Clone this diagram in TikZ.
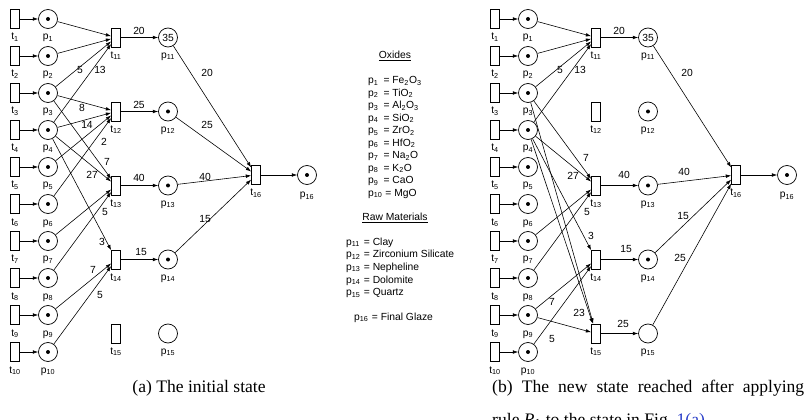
\documentclass[tikz,border=0pt]{standalone}
\usepackage{fontspec}
\setmainfont{Liberation Serif}
\newfontfamily\netfont{Liberation Sans}
\usetikzlibrary{arrows.meta}
\definecolor{linkblue}{RGB}{40,60,200}
\begin{document}
\begin{tikzpicture}[x=0.3mm,y=-0.3mm,
  every node/.style={font=\netfont\fontsize{8.8}{10}\selectfont},
  place/.style={circle,draw,line width=0.6pt,minimum size=5.7mm,inner sep=0pt},
  trans/.style={rectangle,draw,line width=0.6pt,minimum width=2.7mm,minimum height=5.7mm,inner sep=0pt},
  lbl/.style={anchor=base,inner sep=0pt},
  wt/.style={inner sep=0pt},
  legend/.style={anchor=base west,inner sep=0pt},
  arc/.style={line width=0.5pt,-{Latex[length=1.6mm,width=1.1mm]}},
  captext/.style={font=\rmfamily\fontsize{15}{18}\selectfont,inner sep=0pt},
]
\useasboundingbox (0,0) rectangle (804,420);
% common parts of both nets
\foreach \d/\o in {a/0,b/480}{
  \foreach \i in {1,...,10}{
    \pgfmathsetmacro\yy{19+37*(\i-1)}
    \node[trans] (\d-t\i) at ({\o+15},\yy) {};
    \node[place] (\d-p\i) at ({\o+48},\yy) {};
    \fill (\d-p\i) circle[radius=0.6mm];
    \node[lbl] (\d-lt\i) at ({\o+15},{\yy+21}) {t\textsubscript{\i}};
    \node[lbl] (\d-lp\i) at ({\o+48},{\yy+21}) {p\textsubscript{\i}};
    \draw[arc] (\d-t\i) -- (\d-p\i);
  }
  \foreach \k in {11,...,15}{
    \pgfmathsetmacro\yy{37.5+74*(\k-11)}
    \node[trans] (\d-t\k) at ({\o+116},\yy) {};
    \node[lbl] (\d-lt\k) at ({\o+116},{\yy+21}) {t\textsubscript{\k}};
    \node[lbl] (\d-lp\k) at ({\o+168},{\yy+21}) {p\textsubscript{\k}};
  }
  \node[place] (\d-p11) at ({\o+168},37.5) {35};
  \node[place] (\d-p12) at ({\o+168},111.5) {};
  \node[place] (\d-p13) at ({\o+168},185.5) {};
  \node[place] (\d-p14) at ({\o+168},259.5) {};
  \node[place] (\d-p15) at ({\o+168},333.5) {};
  \fill (\d-p12) circle[radius=0.6mm];
  \fill (\d-p13) circle[radius=0.6mm];
  \fill (\d-p14) circle[radius=0.6mm];
  \node[trans] (\d-t16) at ({\o+256},175) {};
  \node[place] (\d-p16) at ({\o+307},175) {};
  \fill (\d-p16) circle[radius=0.6mm];
  \node[lbl] (\d-lt16) at ({\o+256},196) {t\textsubscript{16}};
  \node[lbl] (\d-lp16) at ({\o+307},198) {p\textsubscript{16}};
  \draw[arc] (\d-t16) -- (\d-p16);
  % t11 (clay)
  \draw[arc] (\d-p1) -- (\d-t11);
  \draw[arc] (\d-p2) -- (\d-t11);
  \draw[arc] (\d-p3) -- (\d-t11);
  \draw[arc] (\d-p4) -- (\d-t11);
  \node[wt] (\d-w3-11) at ({\o+80},70) {5};
  \node[wt] (\d-w4-11) at ({\o+100},70) {13};
  \draw[arc] (\d-t11) -- (\d-p11);
  \node[wt] (\d-w11o) at ({\o+139},31) {20};
  \draw[arc] (\d-p11) -- (\d-t16);
  \node[wt] (\d-w11i) at ({\o+207},73) {20};
  % t13 (nepheline)
  \draw[arc] (\d-p3) -- (\d-t13);
  \draw[arc] (\d-p4) -- (\d-t13);
  \draw[arc] (\d-p7) -- (\d-t13);
  \draw[arc] (\d-p8) -- (\d-t13);
  \draw[arc] (\d-t13) -- (\d-p13);
  \draw[arc] (\d-p13) -- (\d-t16);
  % t14 (dolomite)
  \draw[arc] (\d-p4) -- (\d-t14);
  \draw[arc] (\d-p9) -- (\d-t14);
  \draw[arc] (\d-p10) -- (\d-t14);
  \draw[arc] (\d-t14) -- (\d-p14);
  \draw[arc] (\d-p14) -- (\d-t16);
}
% ---- net (a) specific
\draw[arc] (a-p3) -- (a-t12);
\draw[arc] (a-p4) -- (a-t12);
\draw[arc] (a-p5) -- (a-t12);
\draw[arc] (a-p6) -- (a-t12);
\draw[arc] (a-t12) -- (a-p12);
\draw[arc] (a-p12) -- (a-t16);
\node[wt] (a-w4-12) at (82,108) {8};
\node[wt] (a-w5-12) at (87,125) {14};
\node[wt] (a-w6-12) at (104,142) {2};
\node[wt] (a-w3-13) at (107,162) {7};
\node[wt] (a-w4-13) at (92,175) {27};
\node[wt] (a-w8-13) at (105,212) {5};
\node[wt] (a-w4-14) at (102,242) {3};
\node[wt] (a-w9-14) at (93,270) {7};
\node[wt] (a-w10-14) at (100,295) {5};
\node[wt] (a-w12o) at (139,105) {25};
\node[wt] (a-w13o) at (139,178) {40};
\node[wt] (a-w14o) at (141,252) {15};
\node[wt] (a-w12i) at (207,125) {25};
\node[wt] (a-w13i) at (205,177) {40};
\node[wt] (a-w14i) at (205,219) {15};
% ---- net (b) specific
\draw[arc] (b-p4) -- (b-t15);
\draw[arc] (b-p3) -- (b-t15);
\draw[arc] (b-p9) -- (b-t15);
\draw[arc] (b-t15) -- (b-p15);
\draw[arc] (b-p15) -- (b-t16);
\node[wt] (b-w3-13) at (586,158) {7};
\node[wt] (b-w4-13) at (573,176) {27};
\node[wt] (b-w8-13) at (587,212) {5};
\node[wt] (b-w4-14) at (591,236) {3};
\node[wt] (b-w9-14) at (552,302) {7};
\node[wt] (b-w10-14) at (552,339) {5};
\node[wt] (b-w4-15) at (579,313) {23};
\node[wt] (b-w13o) at (624,175) {40};
\node[wt] (b-w14o) at (626,249) {15};
\node[wt] (b-w15o) at (623,324) {25};
\node[wt] (b-w13i) at (684,172) {40};
\node[wt] (b-w14i) at (683,216) {15};
\node[wt] (b-w15i) at (680,258) {25};
% ---- legend
\node[inner sep=0pt] (oxh) at (395,56) {\underline{Oxides}};
\foreach \i/\f [count=\n] in {1/Fe\textsubscript{2}O\textsubscript{3},2/TiO\textsubscript{2},3/Al\textsubscript{2}O\textsubscript{3},4/SiO\textsubscript{2},5/ZrO\textsubscript{2},6/HfO\textsubscript{2},7/Na\textsubscript{2}O,8/K\textsubscript{2}O,9/CaO}{
  \node[legend] (ox\i) at (368,{84+12.45*(\n-1)}) {\makebox[4.6mm][l]{p\textsubscript{\i}}= \f};
}
\node[legend] (ox10) at (368,{84+12.45*9}) {p\textsubscript{10} = MgO};
\node[inner sep=0pt] (rmh) at (395,218) {\underline{Raw Materials}};
\foreach \i/\f [count=\n] in {11/Clay,12/Zirconium Silicate,13/Nepheline,14/Dolomite,15/Quartz}{
  \node[legend] (rm\i) at (346,{245+12.7*(\n-1)}) {\makebox[5.3mm][l]{p\textsubscript{\i}}= \f};
}
\node[legend] (fg) at (354,320) {\makebox[5.3mm][l]{p\textsubscript{16}}= Final Glaze};
% ---- captions
\node[captext,anchor=base] (capa) at (199,392) {(a) The initial state};
\node[captext,anchor=base west] (capb) at (492,392) {\makebox[93.6mm][s]{(b) The new state reached after applying}};
\node[captext,anchor=base west] (capb2) at (492,425) {rule \textit{R}\textsubscript{1} to the state in Fig.~\textcolor{linkblue}{1(a)}};
\end{tikzpicture}
\end{document}
